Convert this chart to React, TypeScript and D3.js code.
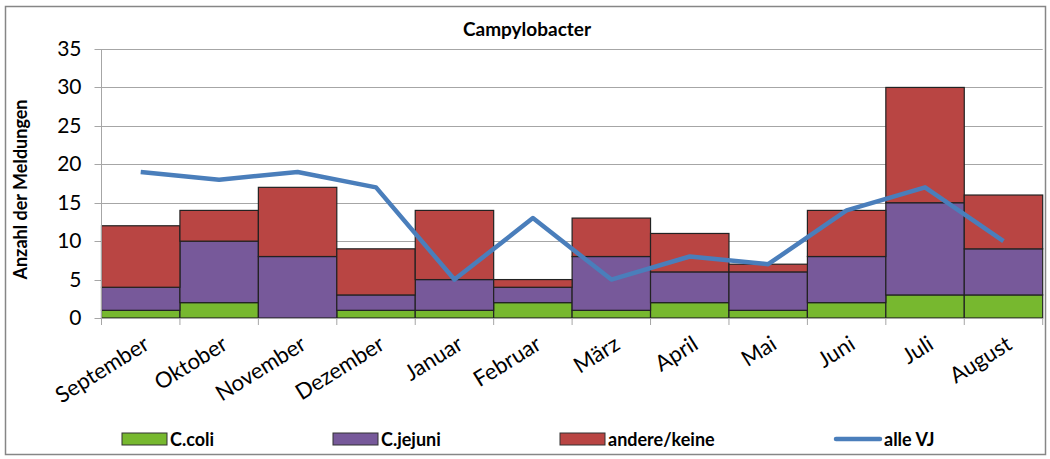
import React, { useEffect, useRef } from 'react'
import * as d3 from 'd3'

const months = ['September', 'Oktober', 'November', 'Dezember', 'Januar', 'Februar', 'März', 'April', 'Mai', 'Juni', 'Juli', 'August']
const coli = [1, 2, 0, 1, 1, 2, 1, 2, 1, 2, 3, 3]
const jejuni = [3, 8, 8, 2, 4, 2, 7, 4, 5, 6, 12, 6]
const andere = [8, 4, 9, 6, 9, 1, 5, 5, 1, 6, 15, 7]
const alleVJ = [19, 18, 19, 17, 5, 13, 5, 8, 7, 14, 17, 10]
const yTicks = [0, 5, 10, 15, 20, 25, 30, 35]

const seriesNames = ['C.coli', 'C.jejuni', 'andere/keine']
const seriesColors = ['#77b82f', '#77599a', '#b94543']
const lineColor = '#4a7ebb'
const font = 'Lato, "Open Sans", sans-serif'

export default function App() {
  const ref = useRef<SVGSVGElement>(null)

  useEffect(() => {
    const svg = d3.select(ref.current)
    svg.selectAll('*').remove()

    const left = 101.5, right = 1042.7, top = 49, bottom = 318

    const x = d3.scaleBand().domain(months).range([left, right]).padding(0)
    const y = d3.scaleLinear().domain([0, 35]).range([bottom, top])

    // chart frame
    svg.append('rect')
      .attr('x', 5.5).attr('y', 6.5).attr('width', 1040).attr('height', 448)
      .attr('fill', 'white').attr('stroke', '#868686').attr('stroke-width', 1.5)

    // gridlines
    svg.append('g').selectAll('line').data(yTicks).enter().append('line')
      .attr('x1', left - 7).attr('x2', right)
      .attr('y1', d => Math.round(y(d)) + 0.5).attr('y2', d => Math.round(y(d)) + 0.5)
      .attr('stroke', '#a6a6a6').attr('stroke-width', 1)

    // y labels
    svg.append('g').selectAll('text').data(yTicks).enter().append('text')
      .attr('x', left - 20).attr('y', d => y(d) + 7)
      .attr('text-anchor', 'end')
      .attr('font-family', font).attr('font-size', 21)
      .text(d => d)

    // stacked bars
    const rows = months.map((m, i) => ({ month: m, coli: coli[i], jejuni: jejuni[i], andere: andere[i] }))
    const stack = d3.stack<any>().keys(['coli', 'jejuni', 'andere'])(rows)

    stack.forEach((layer, k) => {
      svg.append('g').selectAll('rect').data(layer).enter()
        .filter(d => d[1] - d[0] > 0)
        .append('rect')
        .attr('x', d => x(d.data.month)!)
        .attr('width', x.bandwidth())
        .attr('y', d => y(d[1]))
        .attr('height', d => y(d[0]) - y(d[1]))
        .attr('fill', seriesColors[k])
        .attr('stroke', '#222').attr('stroke-width', 1.2)
    })

    // x axis line and ticks
    svg.append('line')
      .attr('x1', left).attr('x2', right).attr('y1', bottom + 0.5).attr('y2', bottom + 0.5)
      .attr('stroke', '#a6a6a6')
    const bounds = months.map(m => x(m)!).concat([right])
    svg.append('g').selectAll('line').data(bounds).enter().append('line')
      .attr('x1', d => d).attr('x2', d => d)
      .attr('y1', bottom).attr('y2', bottom + 7)
      .attr('stroke', '#a6a6a6')
    svg.append('line')
      .attr('x1', left).attr('x2', left).attr('y1', top).attr('y2', bottom)
      .attr('stroke', '#a6a6a6')

    // x labels
    svg.append('g').selectAll('text').data(months).enter().append('text')
      .attr('transform', d => `translate(${x(d)! + x.bandwidth() / 2 + 10},${bottom + 30}) rotate(-32)`)
      .attr('text-anchor', 'end')
      .attr('font-family', font).attr('font-size', 22)
      .text(d => d)

    // line series
    const line = d3.line<number>()
      .x((d, i) => x(months[i])! + x.bandwidth() / 2)
      .y(d => y(d))
    svg.append('path').datum(alleVJ)
      .attr('d', line)
      .attr('fill', 'none').attr('stroke', lineColor).attr('stroke-width', 4.5)
      .attr('stroke-linejoin', 'round')

    // title
    svg.append('text')
      .attr('x', 527).attr('y', 36).attr('text-anchor', 'middle')
      .attr('font-family', font).attr('font-weight', 'bold').attr('font-size', 19)
      .text('Campylobacter')

    // y title
    svg.append('text')
      .attr('transform', `translate(27,${(top + bottom) / 2 + 6}) rotate(-90)`)
      .attr('text-anchor', 'middle')
      .attr('font-family', font).attr('font-weight', 'bold').attr('font-size', 18)
      .text('Anzahl der Meldungen')

    // legend
    const legX = [122, 333, 560]
    seriesNames.forEach((n, i) => {
      svg.append('rect')
        .attr('x', legX[i]).attr('y', 433).attr('width', 45).attr('height', 12)
        .attr('fill', seriesColors[i]).attr('stroke', '#333').attr('stroke-width', 1)
      svg.append('text')
        .attr('x', legX[i] + 48).attr('y', 446)
        .attr('font-family', font).attr('font-weight', 'bold').attr('font-size', 18)
        .text(n)
    })
    svg.append('line')
      .attr('x1', 836).attr('x2', 880).attr('y1', 439).attr('y2', 439)
      .attr('stroke', lineColor).attr('stroke-width', 4.5).attr('stroke-linecap', 'round')
    svg.append('text')
      .attr('x', 884).attr('y', 446)
      .attr('font-family', font).attr('font-weight', 'bold').attr('font-size', 18)
      .text('alle VJ')
  }, [])

  return (
    <svg ref={ref} width={1050} height={459} style={{ position: 'absolute', left: 0, top: 0 }} />
  )
}
